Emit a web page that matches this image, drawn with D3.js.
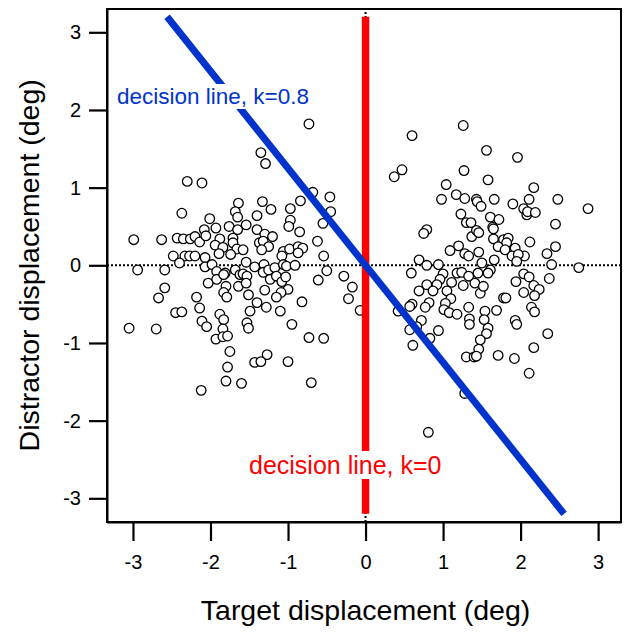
<!DOCTYPE html>
<html>
<head>
<meta charset="utf-8">
<script src="https://cdn.jsdelivr.net/npm/d3@7"></script>
<style>
  html, body { margin: 0; padding: 0; background: #fff; }
  svg { display: block; font-family: "Liberation Sans", Arial, sans-serif; }
</style>
</head>
<body>
<svg id="chart" width="626" height="632"></svg>
<script>
// ---- data (deg) ----
const xTicks = [-3, -2, -1, 0, 1, 2, 3];
const yTicks = [-3, -2, -1, 0, 1, 2, 3];
const decisionK = [0, 0.8];           // x = -k * y
const lineSpan = [-3.2, 3.2];         // y extent of decision lines
const labelTexts = ["decision line, k=0", "decision line, k=0.8"];
const xTitle = "Target displacement (deg)";
const yTitle = "Distractor displacement (deg)";

// trials: [target displacement, distractor displacement]
const trials = [
[-2.30,1.08],[-2.11,1.06],[-1.64,0.80],[-2.37,0.67],[-1.68,0.69],[-2.01,0.60],[-1.65,0.62],[-2.08,0.46],[-1.93,0.48],[-1.76,0.50],[-1.54,0.52],[-1.65,0.46],[-1.40,0.46],[-2.63,0.33],[-2.43,0.35],[-2.35,0.34],[-2.26,0.34],[-2.20,0.37],[-2.14,0.30],[-2.06,0.38],[-1.88,0.34],[-1.71,0.35],[-1.94,0.26],[-1.84,0.23],[-1.71,0.29],[-1.66,0.21],[-1.58,0.20],[-1.37,0.29],[-1.74,0.14],
[-0.73,1.82],[-1.35,1.45],[-1.29,1.31],[-0.68,0.94],[-0.46,0.88],[-1.33,0.82],[-0.84,0.83],[-1.22,0.72],[-1.40,0.64],[-0.97,0.73],[-0.45,0.69],[-0.97,0.58],[-0.99,0.50],[-0.55,0.54],[-0.85,0.43],[-1.30,0.40],[-1.20,0.37],[-1.32,0.31],[-1.25,0.24],[-1.34,0.20],[-0.62,0.31],[-1.06,0.18],[-0.98,0.21],[-0.87,0.24],[-0.81,0.22],[-0.87,0.16],[-1.08,0.12],[-0.54,0.12],
[-2.48,0.12],[-2.33,0.12],[-2.27,0.12],[-2.20,0.12],[-2.40,0.03],[-2.07,0.10],[-2.07,-0.02],[-1.98,0.01],[-1.89,0.15],[-2.59,-0.06],[-1.92,-0.08],[-1.81,-0.10],[-1.68,-0.06],[-1.54,0.04],[-1.43,-0.02],[-1.62,-0.12],[-1.58,-0.11],[-1.53,-0.14],[-2.03,-0.23],[-1.92,-0.18],[-1.83,-0.12],[-1.80,-0.27],[-1.64,-0.27],[-1.54,-0.23],[-1.83,-0.35],[-1.79,-0.41],[-2.59,-0.29],[-2.67,-0.42],[-2.18,-0.41],[-1.51,-0.38],[-2.14,-0.55],[-2.45,-0.61],[-2.37,-0.60],[-1.88,-0.63],[-1.83,-0.70],[-1.49,-0.59],[-2.11,-0.72],[-2.05,-0.79],[-1.53,-0.74],[-1.51,-0.81],[-2.70,-0.82],[-1.84,-0.82],[-1.93,-0.95],[-1.84,-0.92],[-1.78,-0.91],[-1.75,-1.11],[-1.43,-1.25],[-1.78,-1.31],[-1.80,-1.49],[-1.60,-1.52],[-2.12,-1.61],[-1.40,-0.48],
[-1.31,0.01],[-1.32,-0.09],[-1.25,-0.06],[-1.17,-0.03],[-1.06,0.01],[-1.02,-0.01],[-0.91,0.00],[-1.23,-0.18],[-1.15,-0.14],[-1.08,-0.21],[-1.03,-0.15],[-0.50,-0.07],[-0.61,-0.19],[-0.28,-0.14],[-0.17,-0.28],[-0.22,-0.43],[-0.07,-0.58],[-1.30,-0.32],[-1.00,-0.31],[-1.09,-0.35],[-1.15,-0.41],[-1.28,-0.54],[-0.82,-0.47],[-1.10,-0.59],[-0.95,-0.76],[-0.73,-0.93],[-0.54,-0.94],[-1.27,-1.15],[-1.35,-1.24],[-1.00,-1.24],[-0.70,-1.51],
[-2.99,0.33],[-2.94,-0.06],[-3.05,-0.81],
[1.26,1.80],[0.60,1.67],[0.47,1.23],[0.37,1.14],[1.27,1.22],[1.04,1.04],[1.17,0.91],[0.98,0.85],[1.28,0.86],[1.43,0.85],[1.44,0.82],[1.49,0.76],[1.23,0.66],[1.30,0.55],[1.36,0.55],[1.37,0.37],[1.43,0.45],[1.46,0.42],[0.79,0.46],[0.75,0.41],[1.09,0.19],[1.20,0.25],[1.28,0.15],[1.33,0.12],[1.46,0.17],[0.69,0.07],
[1.56,1.48],[1.96,1.39],[1.58,1.10],[2.17,1.00],[1.66,0.85],[1.90,0.79],[2.11,0.85],[2.48,0.85],[2.87,0.73],[2.04,0.73],[2.08,0.65],[2.09,0.69],[2.19,0.68],[1.61,0.62],[1.72,0.59],[2.45,0.53],[1.64,0.49],[1.65,0.47],[1.65,0.34],[1.78,0.33],[1.84,0.35],[1.82,0.29],[2.12,0.30],[1.71,0.24],[1.80,0.20],[1.93,0.22],[2.05,0.12],[1.89,0.12],[2.34,0.15],[2.45,0.24],[1.66,0.07],[1.97,0.14],[1.95,0.05],
[0.79,0.00],[0.94,0.01],[0.59,-0.10],[1.00,-0.11],[0.96,-0.18],[1.18,-0.10],[1.24,-0.09],[1.33,-0.14],[1.11,-0.22],[1.26,-0.26],[0.79,-0.25],[0.92,-0.25],[0.87,-0.33],[0.69,-0.33],[1.05,-0.33],[1.10,-0.43],[0.82,-0.48],[0.77,-0.54],[0.60,-0.50],[0.57,-0.53],[1.03,-0.49],[1.01,-0.57],[1.08,-0.61],[1.18,-0.63],[1.33,-0.54],[0.42,-0.59],[1.34,-0.69],[1.34,-0.76],[0.72,-0.71],[0.66,-0.79],[0.57,-0.83],[0.94,-0.84],[0.83,-0.94],[0.61,-1.03],[1.30,-1.18],[1.40,-1.18],[1.28,-1.65],[0.81,-2.15],
[1.50,0.03],[1.45,-0.10],[1.41,-0.23],[1.48,-0.36],[1.52,-0.27],[1.61,-0.06],[1.58,-0.10],[2.40,0.01],[2.75,-0.03],[2.04,-0.11],[2.11,-0.15],[1.94,-0.21],[2.37,-0.17],[2.17,-0.26],[2.24,-0.31],[2.04,-0.35],[2.18,-0.39],[1.78,-0.42],[1.81,-0.42],[2.14,-0.54],[2.18,-0.60],[1.69,-0.58],[1.54,-0.59],[1.53,-0.70],[1.58,-0.81],[1.56,-0.88],[1.93,-0.71],[1.95,-0.76],[2.35,-0.88],[1.48,-0.96],[1.46,-1.08],[1.43,-1.17],[2.17,-1.06],[1.71,-1.16],[1.92,-1.20],[2.11,-1.39]
];

// ---- layout ----
const svg = d3.select("#chart");
const x = d3.scaleLinear().domain([-3.335, 3.295]).range([107, 621]);
const y = d3.scaleLinear().domain([-3.305, 3.30]).range([522, 9]);
const blue = "#0033cc", red = "#ff0000";

// zero lines (dotted)
svg.append("line")
  .attr("x1", x.range()[0]).attr("x2", x.range()[1])
  .attr("y1", y(0)).attr("y2", y(0))
  .attr("stroke", "#000").attr("stroke-width", 2).attr("stroke-dasharray", "2,2");
svg.append("line")
  .attr("x1", x(0)).attr("x2", x(0))
  .attr("y1", y.range()[0]).attr("y2", y.range()[1])
  .attr("stroke", "#000").attr("stroke-width", 2).attr("stroke-dasharray", "2,2");

// points
svg.append("g").selectAll("circle").data(trials).join("circle")
  .attr("cx", d => x(d[0])).attr("cy", d => y(d[1])).attr("r", 4.8)
  .attr("fill", "#fff").attr("stroke", "#000").attr("stroke-width", 1.3);

// decision lines: x = -k*y
const lineColors = [red, blue];
decisionK.forEach((k, i) => {
  svg.append("line")
    .attr("x1", x(-k * lineSpan[1])).attr("y1", y(lineSpan[1]))
    .attr("x2", x(-k * lineSpan[0])).attr("y2", y(lineSpan[0]))
    .attr("stroke", lineColors[i]).attr("stroke-width", i === 0 ? 7.5 : 7);
});

// labels with white background
function label(txt, px, py, size, color) {
  const g = svg.append("g");
  const r = g.append("rect").attr("fill", "#fff");
  const t = g.append("text").attr("x", px).attr("y", py)
    .attr("fill", color).attr("font-size", size).text(txt);
  const b = t.node().getBBox();
  r.attr("x", b.x - 1).attr("y", b.y).attr("width", b.width + 2).attr("height", b.height);
}
label(labelTexts[0], 249, 474, 25, red);
label(labelTexts[1], 117, 104, 22.5, blue);

// frame
svg.append("rect")
  .attr("x", x.range()[0]).attr("y", y.range()[1])
  .attr("width", x.range()[1] - x.range()[0]).attr("height", y.range()[0] - y.range()[1])
  .attr("fill", "none").attr("stroke", "#000").attr("stroke-width", 2);

// axes
const fmt = d => String(d);
const gx = svg.append("g").attr("transform", `translate(0,${y.range()[0]})`)
  .call(d3.axisBottom(x).tickValues(xTicks).tickFormat(fmt).tickSize(19).tickPadding(14).tickSizeOuter(0));
const gy = svg.append("g").attr("transform", `translate(${x.range()[0]},0)`)
  .call(d3.axisLeft(y).tickValues(yTicks).tickFormat(fmt).tickSize(18).tickPadding(8).tickSizeOuter(0));
[gx, gy].forEach(g => {
  g.select(".domain").attr("stroke-width", 2);
  g.selectAll(".tick line").attr("stroke-width", 2.2);
  g.selectAll(".tick text").attr("font-size", 20).attr("font-family", "Liberation Sans, Arial, sans-serif").attr("fill", "#000");
});

// titles
svg.append("text").attr("x", x(0)).attr("y", 620).attr("text-anchor", "middle")
  .attr("font-size", 28.5).text(xTitle);
svg.append("text").attr("transform", `translate(39,${y(0)}) rotate(-90)`).attr("text-anchor", "middle")
  .attr("font-size", 28.5).text(yTitle);
</script>
</body>
</html>
